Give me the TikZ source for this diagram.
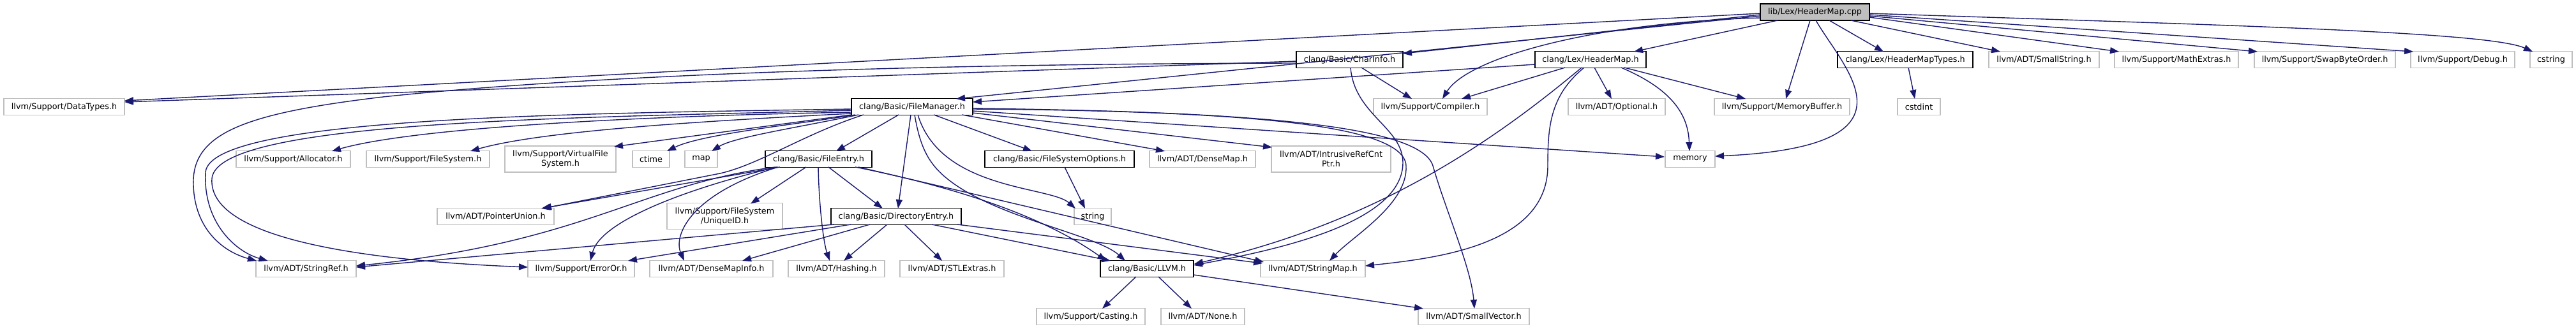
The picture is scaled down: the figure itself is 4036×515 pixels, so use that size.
\documentclass[tikz,border=0pt]{standalone}
\usepackage{fontspec}
\setmainfont{DejaVu Sans}
\usetikzlibrary{arrows.meta,calc}
\definecolor{edgecol}{HTML}{191970}
\definecolor{extcol}{HTML}{BFBFBF}
\begin{document}
\begin{tikzpicture}[x=1pt,y=-1pt,
  nbox/.style={draw, line width=1.6pt, inner sep=0pt, minimum height=26pt, font=\fontsize{12.8}{15}\selectfont, align=center, text=black},
  ext/.style={nbox, draw=extcol},
  doc/.style={nbox, draw=black},
  root/.style={nbox, draw=black, fill=extcol},
  dep/.style={draw=edgecol, line width=1.4pt, -{Triangle[length=14pt,width=10pt]}}
]
\fill[white] (0,0) rectangle (4036,515);
\useasboundingbox (0,0) rectangle (4036,515);
% row 0
\node[root, minimum width=171pt] (cpp) at (2843.5,19) {lib/Lex/HeaderMap.cpp};
% row 1
\node[doc, minimum width=167pt] (charinfo) at (2114.5,93.5) {clang/Basic/CharInfo.h};
\node[doc, minimum width=174pt] (hmh) at (2492,93.5) {clang/Lex/HeaderMap.h};
\node[doc, minimum width=212pt] (hmtypes) at (2985,93.5) {clang/Lex/HeaderMapTypes.h};
\node[ext, minimum width=173pt] (smallstring) at (3202.5,93.5) {llvm/ADT/SmallString.h};
\node[ext, minimum width=194pt] (mathextras) at (3410,93.5) {llvm/Support/MathExtras.h};
\node[ext, minimum width=221pt] (swap) at (3642.5,93.5) {llvm/Support/SwapByteOrder.h};
\node[ext, minimum width=163pt] (debug) at (3858.5,93.5) {llvm/Support/Debug.h};
\node[ext, minimum width=66pt] (cstring) at (3997,93.5) {cstring};
% row 2
\node[ext, minimum width=189pt] (datatypes) at (100.5,167.5) {llvm/Support/DataTypes.h};
\node[doc, minimum width=190pt] (fm) at (1429,167.5) {clang/Basic/FileManager.h};
\node[ext, minimum width=178pt] (compiler) at (2241,167.5) {llvm/Support/Compiler.h};
\node[ext, minimum width=152pt] (optional) at (2533,167.5) {llvm/ADT/Optional.h};
\node[ext, minimum width=212pt] (membuf) at (2792,167.5) {llvm/Support/MemoryBuffer.h};
\node[ext, minimum width=67pt] (cstdint) at (3006.5,167.5) {cstdint};
% row 3
\node[ext, minimum width=179pt] (allocator) at (459.5,249.5) {llvm/Support/Allocator.h};
\node[ext, minimum width=193pt] (filesystem) at (670.5,249.5) {llvm/Support/FileSystem.h};
\node[ext, minimum width=174pt, minimum height=41pt] (vfs) at (878,249.5) {llvm/Support/VirtualFile\\System.h};
\node[ext, minimum width=58pt] (ctime) at (1020,249.5) {ctime};
\node[ext, minimum width=51pt] (map) at (1098.5,249.5) {map};
\node[doc, minimum width=167pt] (fileentry) at (1282.5,249.5) {clang/Basic/FileEntry.h};
\node[doc, minimum width=234pt] (fsopts) at (1660,249.5) {clang/Basic/FileSystemOptions.h};
\node[ext, minimum width=166pt] (densemap) at (1884,249.5) {llvm/ADT/DenseMap.h};
\node[ext, minimum width=187pt, minimum height=41pt] (intrusive) at (2085.5,249.5) {llvm/ADT/IntrusiveRefCnt\\Ptr.h};
\node[ext, minimum width=78pt] (memory) at (2648,249.5) {memory};
% row 4
\node[ext, minimum width=183pt] (pointerunion) at (776.5,339.5) {llvm/ADT/PointerUnion.h};
\node[ext, minimum width=181pt, minimum height=41pt] (uniqueid) at (1135.5,339) {llvm/Support/FileSystem\\/UniqueID.h};
\node[doc, minimum width=204pt] (direntry) at (1404,339.5) {clang/Basic/DirectoryEntry.h};
\node[ext, minimum width=58pt] (string) at (1712,339.5) {string};
% row 5
\node[ext, minimum width=157pt] (stringref) at (479.5,421.5) {llvm/ADT/StringRef.h};
\node[ext, minimum width=167pt] (erroror) at (910.5,421.5) {llvm/Support/ErrorOr.h};
\node[ext, minimum width=193pt] (densemapinfo) at (1114.5,421.5) {llvm/ADT/DenseMapInfo.h};
\node[ext, minimum width=151pt] (hashing) at (1310.5,421.5) {llvm/ADT/Hashing.h};
\node[ext, minimum width=163pt] (stlextras) at (1491.5,421.5) {llvm/ADT/STLExtras.h};
\node[doc, minimum width=146pt] (llvmh) at (1797,421.5) {clang/Basic/LLVM.h};
\node[ext, minimum width=164pt] (stringmap) at (2057,421.5) {llvm/ADT/StringMap.h};
% row 6
\node[ext, minimum width=170pt] (casting) at (1709,496.5) {llvm/Support/Casting.h};
\node[ext, minimum width=131pt] (none) at (1884.5,496.5) {llvm/ADT/None.h};
\node[ext, minimum width=174pt] (smallvector) at (2309,496.5) {llvm/ADT/SmallVector.h};

% cpp
\draw[dep] ($(cpp)+(-58.5,13)$) -- ($(hmh)+(68,-12.5)$);
\draw[dep] ($(cpp)+(-85.5,4)$) -- ($(charinfo)+(83.5,-9.5)$);
\draw[dep] ($(cpp)+(-85.5,6)$) -- ($(fm)+(69,-12.5)$);
\draw[dep] ($(cpp)+(-85.5,2)$) -- ($(datatypes)+(94.5,-9.5)$);
\draw[dep] ($(cpp)+(-85.5,9)$) .. controls (2500,35) and (2300,90) .. ($(compiler)+(19,-12.5)$);
\draw[dep] ($(cpp)+(-7.5,13)$) -- ($(membuf)+(6,-12.5)$);
\draw[dep] ($(cpp)+(1.5,13)$) .. controls (2890,110) and (3020,230) .. ($(memory)+(39,-4.5)$);
\draw[dep] ($(cpp)+(22.5,13)$) -- ($(hmtypes)+(-34,-12.5)$);
\draw[dep] ($(cpp)+(56.5,13)$) -- ($(smallstring)+(-68.5,-12.5)$);
\draw[dep] ($(cpp)+(85.5,8)$) -- ($(mathextras)+(-90,-12.5)$);
\draw[dep] ($(cpp)+(85.5,6)$) -- ($(swap)+(-105.5,-12.5)$);
\draw[dep] ($(cpp)+(85.5,4)$) -- ($(debug)+(-77.5,-12.5)$);
\draw[dep] ($(cpp)+(85.5,2)$) .. controls (3500,40) and (3900,50) .. ($(cstring)+(-29,-12.5)$);
% charinfo
\draw[dep] ($(charinfo)+(-83.5,2.5)$) -- ($(datatypes)+(94.5,-7.5)$);
\draw[dep] ($(charinfo)+(-83.5,5.5)$) .. controls (1400,100) and (900,120) .. (600,152) .. controls (380,178) and (300,210) .. (303,290) .. controls (305,360) and (350,395) .. ($(stringref)+(-77.5,-12.5)$);
\draw[dep] ($(charinfo)+(18.5,12.5)$) -- ($(compiler)+(-29,-12.5)$);
\draw[dep] ($(charinfo)+(1.5,12.5)$) .. controls (2122,180) and (2198,200) .. (2198,255) .. controls (2198,350) and (2000,392) .. ($(llvmh)+(73,-5.5)$);
% HeaderMap.h
\draw[dep] ($(hmh)+(-87,7.5)$) -- ($(fm)+(95,-7.5)$);
\draw[dep] ($(hmh)+(-40,12.5)$) -- ($(compiler)+(49,-12.5)$);
\draw[dep] ($(hmh)+(6,12.5)$) -- ($(optional)+(-8,-12.5)$);
\draw[dep] ($(hmh)+(48,12.5)$) .. controls (2620,140) and (2645,180) .. ($(memory)+(-1,-12.5)$);
\draw[dep] ($(hmh)+(53,12.5)$) -- ($(membuf)+(-57,-12.5)$);
\draw[dep] ($(hmh)+(-14,12.5)$) .. controls (2330,230) and (2150,350) .. ($(llvmh)+(74,-7.5)$);
\draw[dep] ($(hmh)+(-10,12.5)$) .. controls (2428,150) and (2425,200) .. (2425,260) .. controls (2425,385) and (2250,405) .. ($(stringmap)+(82,-4.5)$);
% FileManager.h
\draw[dep] ($(fm)+(-95,3.5)$) .. controls (900,178) and (330,183) .. (322,270) .. controls (318,350) and (370,395) .. ($(stringref)+(-60,-12.5)$);
\draw[dep] ($(fm)+(-95,5.5)$) .. controls (900,185) and (340,188) .. (332,280) .. controls (325,380) and (600,410) .. ($(erroror)+(-83.5,-2.5)$);
\draw[dep] ($(fm)+(-95,8.5)$) .. controls (1000,182) and (650,200) .. ($(allocator)+(60.5,-12.5)$);
\draw[dep] ($(fm)+(-95,10.5)$) .. controls (1100,190) and (850,205) .. ($(filesystem)+(66.5,-12.5)$);
\draw[dep] ($(fm)+(-95,12.5)$) -- ($(vfs)+(84,-19.5)$);
\draw[dep] ($(fm)+(-89,12.5)$) .. controls (1250,195) and (1100,210) .. ($(ctime)+(25,-12.5)$);
\draw[dep] ($(fm)+(-84,12.5)$) .. controls (1250,200) and (1150,215) .. ($(map)+(16.5,-12.5)$);
\draw[dep] ($(fm)+(-21,12.5)$) -- ($(fileentry)+(27.5,-12.5)$);
\draw[dep] ($(fm)+(-76,12.5)$) .. controls (1260,210) and (1190,258) .. (1128,272) -- ($(pointerunion)+(73.5,-12.5)$);
\draw[dep] ($(fm)+(-2,12.5)$) -- ($(direntry)+(3,-12.5)$);
\draw[dep] ($(fm)+(4,12.5)$) .. controls (1443,240) and (1460,265) .. (1500,292) .. controls (1580,345) and (1720,370) .. ($(llvmh)+(-34,-12.5)$);
\draw[dep] ($(fm)+(9,12.5)$) .. controls (1455,235) and (1500,265) .. (1560,284) .. controls (1610,300) and (1660,305) .. ($(string)+(-27,-12.5)$);
\draw[dep] ($(fm)+(34,12.5)$) -- ($(fsopts)+(-43,-12.5)$);
\draw[dep] ($(fm)+(78,12.5)$) -- ($(densemap)+(-59,-12.5)$);
\draw[dep] ($(fm)+(95,9.5)$) -- ($(intrusive)+(-92.5,-18.5)$);
\draw[dep] ($(fm)+(95,6.5)$) -- ($(memory)+(-40,-3.5)$);
\draw[dep] ($(fm)+(95,2.5)$) .. controls (1950,175) and (2225,195) .. (2245,260) .. controls (2265,330) and (2305,420) .. ($(smallvector)+(1,-12.5)$);
\draw[dep] ($(fm)+(95,3.5)$) .. controls (1950,174) and (2200,195) .. (2203,260) .. controls (2206,320) and (2120,370) .. ($(stringmap)+(26,-12.5)$);
% FileEntry.h
\draw[dep] ($(fileentry)+(-60.5,12.5)$) -- ($(pointerunion)+(71.5,-12.5)$);
\draw[dep] ($(fileentry)+(-67.5,12.5)$) .. controls (1000,290) and (920,380) .. ($(stringref)+(78.5,-4.5)$);
\draw[dep] ($(fileentry)+(-65.5,12.5)$) .. controls (1060,300) and (940,350) .. ($(erroror)+(14.5,-12.5)$);
\draw[dep] ($(fileentry)+(-63.5,12.5)$) .. controls (1080,305) and (1055,370) .. ($(densemapinfo)+(-42.5,-12.5)$);
\draw[dep] ($(fileentry)+(-19.5,12.5)$) -- ($(uniqueid)+(40.5,-19.5)$);
\draw[dep] ($(fileentry)+(-0.5,12.5)$) .. controls (1283,320) and (1290,380) .. ($(hashing)+(-10.5,-12.5)$);
\draw[dep] ($(fileentry)+(15.5,12.5)$) -- ($(direntry)+(-21,-12.5)$);
\draw[dep] ($(fileentry)+(57.5,12.5)$) .. controls (1530,300) and (1650,350) .. ($(llvmh)+(-64,-12.5)$);
\draw[dep] ($(fileentry)+(62.5,12.5)$) -- ($(stringmap)+(-77,-10.5)$);
% DirectoryEntry.h
\draw[dep] ($(direntry)+(-97,12.5)$) -- ($(stringref)+(78.5,-2.5)$);
\draw[dep] ($(direntry)+(-71,12.5)$) -- ($(erroror)+(73.5,-12.5)$);
\draw[dep] ($(direntry)+(-41,12.5)$) -- ($(densemapinfo)+(48.5,-12.5)$);
\draw[dep] ($(direntry)+(-14,12.5)$) -- ($(hashing)+(11.5,-12.5)$);
\draw[dep] ($(direntry)+(13,12.5)$) -- ($(stlextras)+(-15.5,-12.5)$);
\draw[dep] ($(direntry)+(56,12.5)$) -- ($(llvmh)+(-57,-12.5)$);
\draw[dep] ($(direntry)+(96,12.5)$) -- ($(stringmap)+(-79,-8.5)$);
% LLVM.h
\draw[dep] ($(llvmh)+(-17,12.5)$) -- ($(casting)+(18,-12.5)$);
\draw[dep] ($(llvmh)+(18,12.5)$) -- ($(none)+(-17.5,-12.5)$);
\draw[dep] ($(llvmh)+(73,9.5)$) -- ($(smallvector)+(-79,-12.5)$);
% others
\draw[dep] ($(fsopts)+(8,12.5)$) -- ($(string)+(-12,-12.5)$);
\draw[dep] ($(hmtypes)+(5,12.5)$) -- ($(cstdint)+(-6.5,-12.5)$);
\end{tikzpicture}
\end{document}
